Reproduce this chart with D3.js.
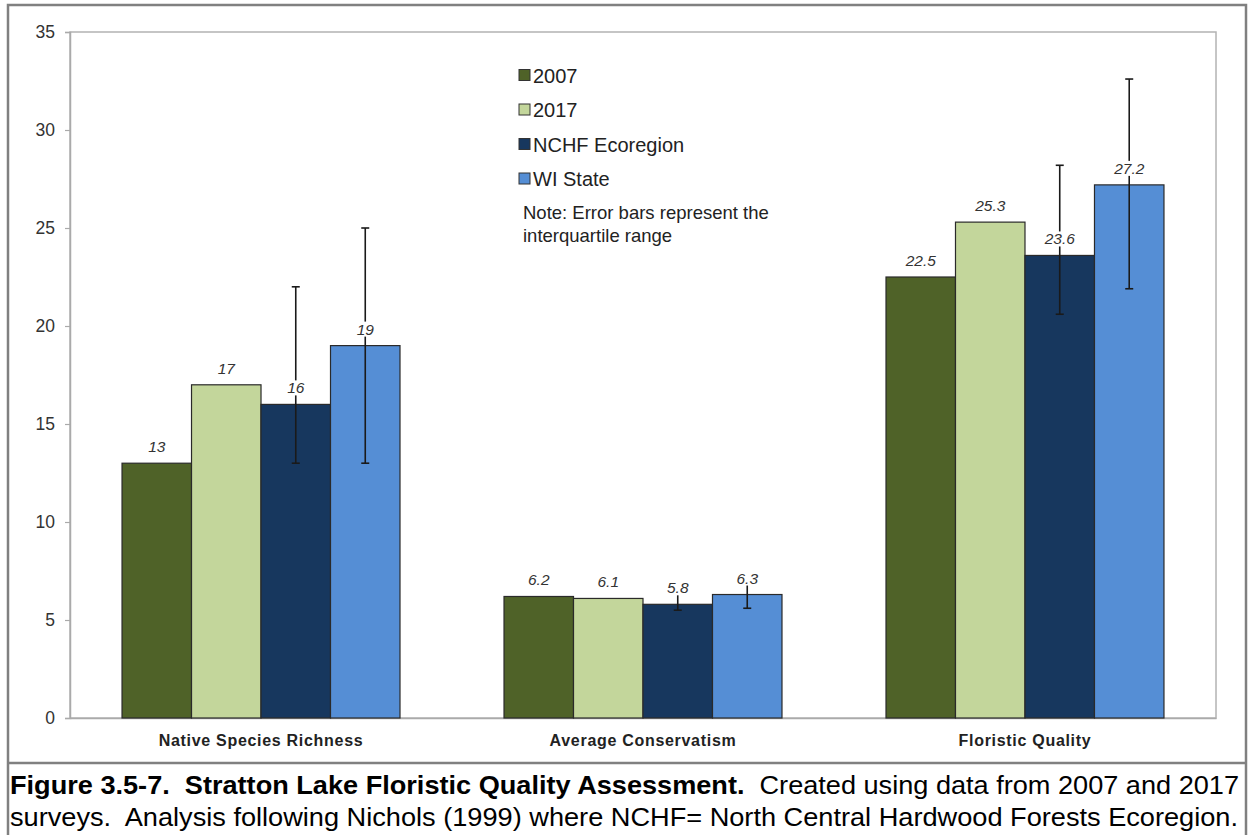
<!DOCTYPE html>
<html><head><meta charset="utf-8">
<script src="https://cdn.jsdelivr.net/npm/d3@7"></script>
<style>body{margin:0;background:#fff}svg{display:block}text{white-space:pre}</style>
</head><body><svg id="c" width="1248" height="835"></svg>
<script>
const categories = ["Native Species Richness", "Average Conservatism", "Floristic Quality"];
const seriesNames = ["2007", "2017", "NCHF Ecoregion", "WI State"];
const seriesColors = ["#4f6228", "#c3d69b", "#17375e", "#558ed5"];
const values2007 = [13, 6.2, 22.5];
const values2017 = [17, 6.1, 25.3];
const valuesNCHF = [16, 5.8, 23.6];
const valuesWI = [19, 6.3, 27.2];
const labels2007 = ["13", "6.2", "22.5"];
const labels2017 = ["17", "6.1", "25.3"];
const labelsNCHF = ["16", "5.8", "23.6"];
const labelsWI = ["19", "6.3", "27.2"];
const errLowNCHF = [13, 5.5, 20.6];
const errHighNCHF = [22, 6.4, 28.2];
const errLowWI = [13, 5.6, 21.9];
const errHighWI = [25, 6.85, 32.6];
const yTicks = [0, 5, 10, 15, 20, 25, 30, 35];

const FONT = "Liberation Sans, Arial, sans-serif";
const svg = d3.select("#c");
const L = 70, R = 1216, T = 32, B = 718;
const y = d3.scaleLinear().domain([0, 35]).range([B, T]);
const x0 = d3.scaleBand().domain(categories).range([L, R]).paddingInner(0.2723).paddingOuter(0.1362);
const x1 = d3.scaleBand().domain(seriesNames).range([0, x0.bandwidth()]);

// outer frame
svg.append("rect").attr("x", 8).attr("y", 5).attr("width", 1238).attr("height", 840)
  .attr("fill", "none").attr("stroke", "#808080").attr("stroke-width", 2.5);
svg.append("line").attr("x1", 8).attr("x2", 1246).attr("y1", 763).attr("y2", 763)
  .attr("stroke", "#808080").attr("stroke-width", 2.5);

// plot border
svg.append("rect").attr("x", L).attr("y", T).attr("width", R - L).attr("height", B - T)
  .attr("fill", "none").attr("stroke", "#b3b3b3").attr("stroke-width", 1.5);

// y axis
const yAxis = svg.append("g").attr("transform", `translate(${L},0)`)
  .call(d3.axisLeft(y).tickValues(yTicks).tickSize(5).tickPadding(10).tickFormat(d3.format("d")));
yAxis.select(".domain").attr("stroke", "#aaaaaa").attr("stroke-width", 1.5);
yAxis.selectAll(".tick line").attr("stroke", "#aaaaaa").attr("stroke-width", 1.2);
yAxis.selectAll("text").attr("font-family", FONT).attr("font-size", 17.5).attr("fill", "#333");

// x axis
const xAxis = svg.append("g").attr("transform", `translate(0,${B})`)
  .call(d3.axisBottom(x0).tickSize(0).tickPadding(17));
xAxis.select(".domain").attr("stroke", "#aaaaaa").attr("stroke-width", 1.5);
xAxis.selectAll("text").attr("font-family", FONT).attr("font-size", 16)
  .attr("font-weight", "bold").attr("fill", "#222").attr("letter-spacing", "0.7px");

const series = [
  {name: seriesNames[0], vals: values2007, labs: labels2007},
  {name: seriesNames[1], vals: values2017, labs: labels2017},
  {name: seriesNames[2], vals: valuesNCHF, labs: labelsNCHF, lo: errLowNCHF, hi: errHighNCHF},
  {name: seriesNames[3], vals: valuesWI, labs: labelsWI, lo: errLowWI, hi: errHighWI}
];

const g = svg.append("g");
series.forEach((s, si) => {
  categories.forEach((c, ci) => {
    g.append("rect")
      .attr("x", x0(c) + x1(s.name)).attr("width", x1.bandwidth())
      .attr("y", y(s.vals[ci])).attr("height", y(0) - y(s.vals[ci]))
      .attr("fill", seriesColors[si]).attr("stroke", "#2a2a2a").attr("stroke-width", 1.2);
  });
});
// error bars
series.forEach(s => {
  if (!s.lo) return;
  categories.forEach((c, ci) => {
    const cx = x0(c) + x1(s.name) + x1.bandwidth() / 2;
    const eg = g.append("g").attr("stroke", "#1a1a1a").attr("stroke-width", 1.6);
    eg.append("line").attr("x1", cx).attr("x2", cx).attr("y1", y(s.lo[ci])).attr("y2", y(s.hi[ci]));
    eg.append("line").attr("x1", cx - 4).attr("x2", cx + 4).attr("y1", y(s.lo[ci])).attr("y2", y(s.lo[ci]));
    eg.append("line").attr("x1", cx - 4).attr("x2", cx + 4).attr("y1", y(s.hi[ci])).attr("y2", y(s.hi[ci]));
  });
});
// data labels with white background
series.forEach(s => {
  categories.forEach((c, ci) => {
    const cx = x0(c) + x1(s.name) + x1.bandwidth() / 2;
    const by = y(s.vals[ci]) - 11;
    const t = g.append("text").attr("x", cx).attr("y", by).attr("text-anchor", "middle")
      .attr("font-family", FONT).attr("font-size", 15.5)
      .attr("font-style", "italic").attr("fill", "#333").text(s.labs[ci]);
    const bb = t.node().getBBox();
    g.insert("rect", () => t.node()).attr("x", bb.x - 1).attr("y", bb.y + 1).attr("width", bb.width + 2).attr("height", bb.height - 2).attr("fill", "#fff");
  });
});

// legend
const lg = svg.append("g").attr("font-family", FONT);
seriesNames.forEach((n, i) => {
  const yy = 75 + i * 34.5;
  lg.append("rect").attr("x", 519).attr("y", yy - 5.5).attr("width", 11).attr("height", 11)
    .attr("fill", seriesColors[i]).attr("stroke", "#333").attr("stroke-width", 1);
  lg.append("text").attr("x", 533).attr("y", yy + 7.5).attr("font-size", 20).attr("fill", "#222").text(n);
});
lg.append("text").attr("x", 523).attr("y", 219).attr("font-size", 18.5).attr("fill", "#222").text("Note: Error bars represent the");
lg.append("text").attr("x", 523).attr("y", 242).attr("font-size", 18.5).attr("fill", "#222").text("interquartile range");

// caption
const cap = svg.append("g").attr("font-family", FONT).attr("font-size", 26.5).attr("fill", "#000");
const t1 = cap.append("text").attr("x", 10).attr("y", 794).attr("textLength", 1229).attr("lengthAdjust", "spacingAndGlyphs");
t1.append("tspan").attr("font-weight", "bold").text("Figure 3.5-7.  Stratton Lake Floristic Quality Assessment.");
t1.append("tspan").text("  Created using data from 2007 and 2017");
cap.append("text").attr("x", 10).attr("y", 826).attr("textLength", 1228).attr("lengthAdjust", "spacingAndGlyphs")
  .text("surveys.  Analysis following Nichols (1999) where NCHF= North Central Hardwood Forests Ecoregion.");
</script></body></html>
